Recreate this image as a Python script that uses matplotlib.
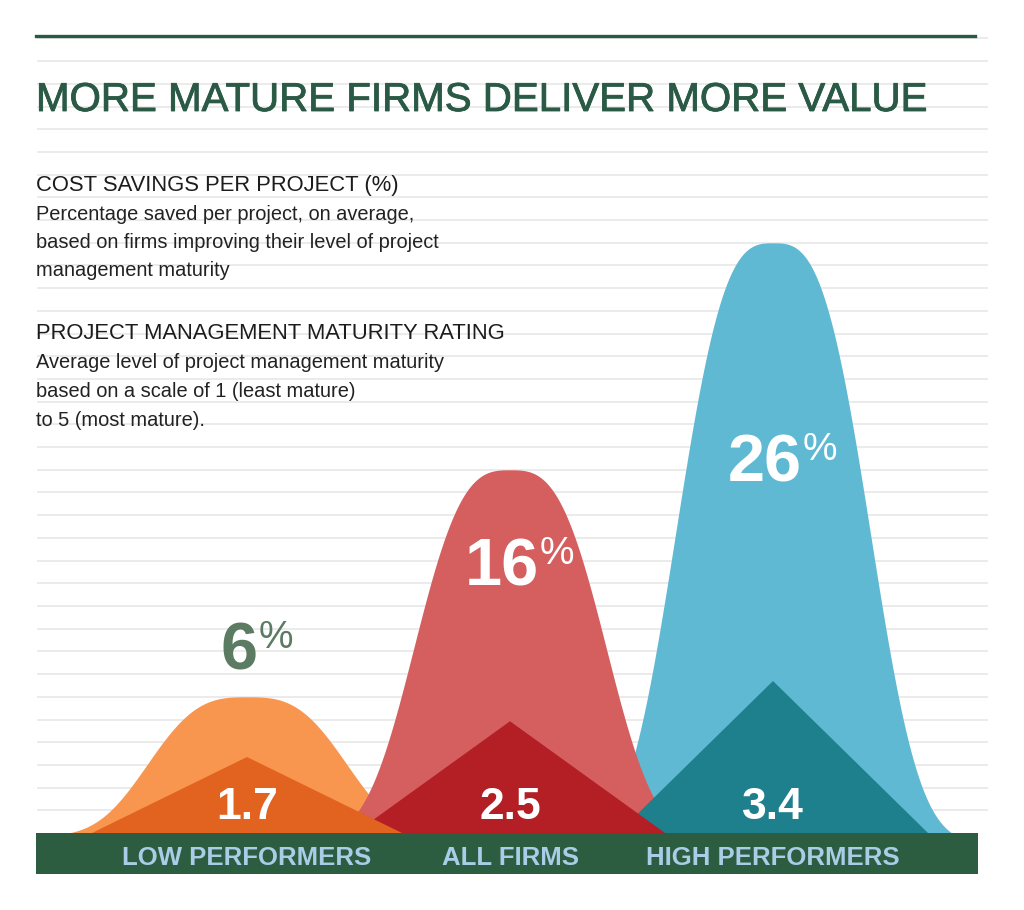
import numpy as np
import matplotlib
matplotlib.use("Agg")
import matplotlib.pyplot as plt
from matplotlib.lines import Line2D
import matplotlib.patheffects as pe

plt.rcParams['font.family'] = ['Liberation Sans', 'DejaVu Sans']

# ---------------- data ----------------
categories = ["LOW PERFORMERS", "ALL FIRMS", "HIGH PERFORMERS"]
cost_savings_pct = [6, 16, 26]          # bell heights (%)
maturity_rating = [1.7, 2.5, 3.4]       # triangle heights (1-5 scale)
pct_labels = ["6", "16", "26"]
rating_labels = ["1.7", "2.5", "3.4"]

title = "MORE MATURE FIRMS DELIVER MORE VALUE"
block1_head = "COST SAVINGS PER PROJECT (%)"
block1_lines = ["Percentage saved per project, on average,",
                "based on firms improving their level of project",
                "management maturity"]
block2_head = "PROJECT MANAGEMENT MATURITY RATING"
block2_lines = ["Average level of project management maturity",
                "based on a scale of 1 (least mature)",
                "to 5 (most mature)."]

# ---------------- style ----------------
bell_colors = ["#f8964f", "#d55e5f", "#5fb9d3"]
tri_colors = ["#e2621f", "#b41f25", "#1e7f8d"]
pct_colors = ["#5b7b63", "white", "white"]
dark_green = "#2a5a45"
bar_green = "#2c5d41"
bar_text = "#a9cde6"
grid_col = "#e9e9e9"

W, H = 1024, 910
fig = plt.figure(figsize=(W / 100, H / 100), dpi=100)
fig.patch.set_facecolor("white")

# pixel geometry of the scales
x_origin_px, x_step_px = 247.0, 263.0      # category centre spacing
base_px = 833.0                            # baseline (y = 0)
pct_px = 22.7                              # px per 1 %
rate_px = 44.7                             # px per rating unit

ax = fig.add_axes([0, 0, 1, 1])
ax.set_xlim(-x_origin_px / x_step_px, (W - x_origin_px) / x_step_px)
ax.set_ylim(-(H - base_px) / pct_px, base_px / pct_px)
ax.axis("off")

ax2 = ax.twinx()
ax2.set_ylim(-(H - base_px) / rate_px, base_px / rate_px)
ax2.axis("off")

def px_to_x(px):
    return (px - x_origin_px) / x_step_px

# background stripes every 1 %
ax.hlines(np.arange(1, 36), px_to_x(37), px_to_x(988), color=grid_col,
          lw=1.3, zorder=0)

# top rule
fig.add_artist(Line2D([36 / W, 975 / W], [1 - 36 / H, 1 - 36 / H],
                      color=dark_green, lw=2.4))

# bells (generalised gaussian, tapered to zero at the feet)
pos = np.arange(len(categories))
spread = [0.435, 0.42, 0.425]
reach = 0.68
order = [2, 0, 1]
for z, i in enumerate(order):
    xs = np.linspace(pos[i] - reach, pos[i] + reach, 500)
    f = np.exp(-np.abs((xs - pos[i]) / spread[i]) ** 3)
    e0 = np.exp(-(reach / spread[i]) ** 3)
    ys = cost_savings_pct[i] * np.clip((f - e0) / (1 - e0), 0, None)
    ax.fill_between(xs, 0, ys, color=bell_colors[i], lw=0, zorder=2 + z)

# triangles on maturity scale
half_w = 155 / x_step_px
for z, i in enumerate([2, 1, 0]):
    c = pos[i]
    ax2.fill([c - half_w, c, c + half_w], [0, maturity_rating[i], 0],
             color=tri_colors[i], lw=0, zorder=2 + z)
    ax2.text(c, 0.31, rating_labels[i], ha="center", va="baseline",
             fontsize=32, fontweight="bold", color="white", zorder=10)

# percentage labels
pct_label_y = [7.2, 10.9, 15.5]
for i in range(len(categories)):
    t = ax2.text(pos[i] - 8 / x_step_px, pct_label_y[i] * pct_px / rate_px,
                 pct_labels[i], ha="center", va="baseline", fontsize=48,
                 fontweight="bold", color=pct_colors[i], zorder=10)
    ax2.annotate("%", xy=(1, 1), xycoords=t, xytext=(0.5, 1),
                 textcoords="offset points", ha="left", va="top",
                 fontsize=28, color=pct_colors[i], zorder=10)

# bottom band and category labels
ax.axhspan(-41 / pct_px, 0, xmin=36 / W, xmax=978 / W, color=bar_green,
           lw=0, zorder=20)
for i, name in enumerate(categories):
    ax.text(pos[i], -32 / pct_px, name, ha="center", va="baseline",
            fontsize=18.5, fontweight="bold", color=bar_text, zorder=21)

# text block
def ftxt(px_y, s, **kw):
    return fig.text(36 / W, 1 - px_y / H, s, ha="left", va="baseline", **kw)

ftxt(111, title, fontsize=29, color=dark_green,
     path_effects=[pe.withStroke(linewidth=0.6, foreground=dark_green)])
ftxt(191, block1_head, fontsize=15.8, color="#1c1c1c")
for k, s in enumerate(block1_lines):
    ftxt(220 + 28 * k, s, fontsize=14.4, color="#222222")
ftxt(339, block2_head, fontsize=15.8, color="#1c1c1c")
for k, s in enumerate(block2_lines):
    ftxt(368 + 29 * k, s, fontsize=14.4, color="#222222")

fig.savefig("out.png", dpi=100, facecolor="white")
